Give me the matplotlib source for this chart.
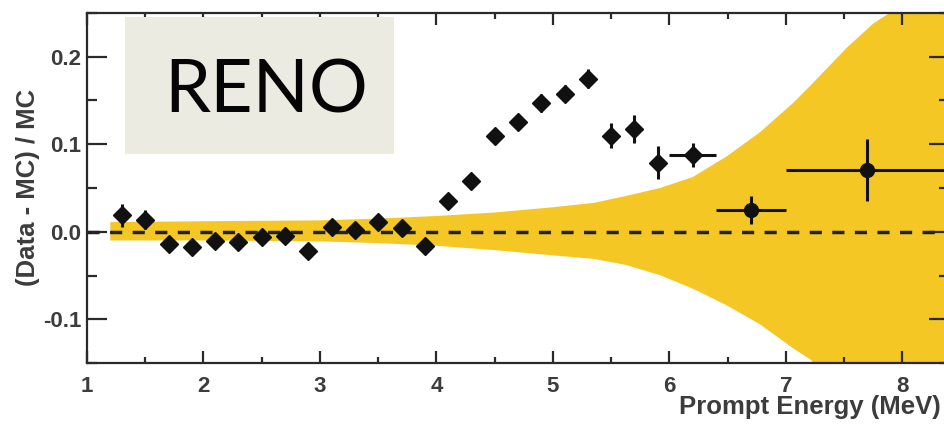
import matplotlib
matplotlib.use("Agg")
import matplotlib.pyplot as plt
from matplotlib.patches import Rectangle
from matplotlib.ticker import MultipleLocator

# ---- data ----
energy = [1.3, 1.5, 1.7, 1.9, 2.1, 2.3, 2.5, 2.7, 2.9, 3.1, 3.3, 3.5, 3.7, 3.9,
          4.1, 4.3, 4.5, 4.7, 4.9, 5.1, 5.3, 5.5, 5.7, 5.9, 6.2]
ratio = [0.019, 0.014, -0.014, -0.017, -0.011, -0.012, -0.006, -0.005, -0.022,
         0.006, 0.002, 0.011, 0.004, -0.016, 0.035, 0.058, 0.109, 0.126, 0.147,
         0.158, 0.175, 0.110, 0.118, 0.079, 0.088]
ratio_err = [0.013, 0.011, 0.007, 0.007, 0.006, 0.006, 0.006, 0.006, 0.007,
             0.006, 0.006, 0.007, 0.007, 0.008, 0.008, 0.008, 0.009, 0.009, 0.010,
             0.010, 0.011, 0.014, 0.016, 0.019, 0.014]
energy_err = [0.0] * 24 + [0.2]

wide_energy = [6.7, 7.7]
wide_ratio = [0.025, 0.0705]
wide_err = [0.016, 0.035]
wide_xerr = [0.3, 0.7]

band_x = [1.2, 2.0, 3.0, 3.5, 4.0, 4.5, 5.0, 5.35, 5.63, 5.92, 6.2, 6.49, 6.78,
          7.06, 7.21, 7.52, 7.75, 7.89, 8.4]
band_hi = [0.011, 0.012, 0.013, 0.015, 0.018, 0.022, 0.028, 0.033, 0.041, 0.050,
           0.0625, 0.086, 0.114, 0.147, 0.167, 0.210, 0.238, 0.25, 0.33]
band_lo = [-0.010, -0.010, -0.011, -0.013, -0.016, -0.021, -0.027, -0.031, -0.038,
           -0.0497, -0.065, -0.084, -0.106, -0.133, -0.146, -0.19, -0.23, -0.26, -0.40]

xlabel = "Prompt Energy (MeV)"
ylabel = "(Data - MC) / MC"
tag = "RENO"

W, H = 945, 425
fig = plt.figure(figsize=(W / 100, H / 100), dpi=100)
ax = fig.add_axes([87 / W, (H - 363) / H, (949 - 87) / W, 350 / H])

yellow = "#f4c724"
ink = "#111111"
grey = "#3c3c3c"

ax.fill_between(band_x, band_lo, band_hi, color=yellow, lw=0, zorder=1)
ax.axhline(0, color="#222222", lw=2.5, ls=(0, (3.5, 3.0)), zorder=2)

ax.errorbar(energy, ratio, yerr=ratio_err, xerr=energy_err, fmt="D", ms=9,
            color=ink, ecolor=ink, elinewidth=2.2, capsize=0, zorder=3)
ax.errorbar(wide_energy, wide_ratio, yerr=wide_err, xerr=wide_xerr, fmt="o",
            ms=10, color=ink, ecolor=ink, elinewidth=2.2, capsize=0, zorder=3)

ax.set_xlim(1, 8.4)
ax.set_ylim(-0.15, 0.25)

ax.xaxis.set_major_locator(MultipleLocator(1))
ax.xaxis.set_minor_locator(MultipleLocator(0.5))
ax.yaxis.set_major_locator(MultipleLocator(0.1))
ax.yaxis.set_minor_locator(MultipleLocator(0.05))
ax.set_yticks([-0.1, 0.0, 0.1, 0.2])
ax.set_yticklabels(["-0.1", "0.0", "0.1", "0.2"])
ax.set_xticks(range(1, 9))
ax.set_xticklabels([str(i) for i in range(1, 9)])

for s in ax.spines.values():
    s.set_color("#2a2a2a")
    s.set_linewidth(1.6)

ax.tick_params(axis="x", which="major", direction="in", length=8.5, width=1.6,
               top=True, bottom=True, color="#2a2a2a", pad=9)
ax.tick_params(axis="x", which="minor", direction="in", length=4.3, width=1.6,
               top=True, bottom=True, color="#2a2a2a")
ax.tick_params(axis="y", which="major", direction="in", length=14.5, width=1.6,
               left=True, right=True, color="#2a2a2a", pad=4)
ax.tick_params(axis="y", which="minor", direction="in", length=7.2, width=1.6,
               left=True, right=True, color="#2a2a2a")
for lab in ax.get_xticklabels() + ax.get_yticklabels():
    lab.set_fontfamily("Liberation Sans")
    lab.set_fontweight("bold")
    lab.set_fontsize(16)
    lab.set_color(grey)

fig.text(28 / W, 1 - 187 / H, ylabel, rotation=90, ha="center", va="center",
         fontsize=18.5, fontweight="bold", family="Liberation Sans", color=grey)
fig.text(941 / W, 1 - 407 / H, xlabel, ha="right", va="center",
         fontsize=18.5, fontweight="bold", family="Liberation Sans", color=grey)

fig.patches.append(Rectangle((125 / W, 1 - 154 / H), (394 - 125) / W, (154 - 17) / H,
                             transform=fig.transFigure, facecolor="#ecebe2",
                             edgecolor="none", zorder=5))
fig.text(164 / W, 1 - 92 / H, tag, ha="left", va="center", fontsize=53,
         family="Lato", color="#050505", zorder=6)

fig.savefig("out.png", dpi=100)
